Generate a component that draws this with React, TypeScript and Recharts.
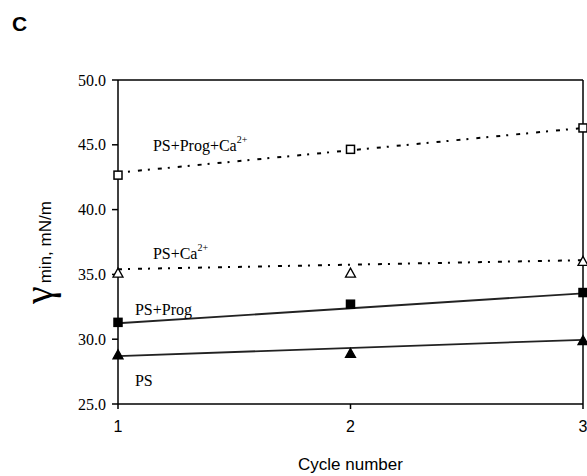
import { LineChart, Line, XAxis, YAxis, ReferenceLine, ReferenceDot, Label } from 'recharts';

const cycles = [1, 2, 3];
const psProgCa = [42.66, 44.65, 46.3];
const psCa = [35.1, 35.1, 36.0];
const psProg = [31.3, 32.7, 33.6];
const ps = [28.8, 28.9, 29.9];

// trendline ends read at cycle 1 and cycle 3
const trendCycles = [1, 3];
const trendProgCa = [42.85, 46.3];
const trendCa = [35.4, 36.1];
const trendProg = [31.23, 33.54];
const trendPs = [28.7, 29.95];

const yTicks = [25, 30, 35, 40, 45, 50];
const xTicks = [1, 2, 3];

// series names written in the plot (data position of start of baseline)
const seriesLabels = [
  { main: 'PS+Prog+Ca', sup: '2+', x: 1.15, y: 44.52 },
  { main: 'PS+Ca', sup: '2+', x: 1.15, y: 36.19 },
  { main: 'PS+Prog', sup: '', x: 1.073, y: 31.87 },
  { main: 'PS', sup: '', x: 1.073, y: 26.39 },
];

const rows = cycles.map((c, i) => ({
  cycle: c,
  psProgCa: psProgCa[i],
  psCa: psCa[i],
  psProg: psProg[i],
  ps: ps[i],
}));

const trendRows = (vals: number[]) => trendCycles.map((c, i) => ({ cycle: c, v: vals[i] }));

const serif = '"Liberation Serif", "Times New Roman", serif';
const sans = '"Liberation Sans", Arial, sans-serif';

const square = (filled: boolean) => (p: any) => (
  <rect key={p.key ?? `${p.index}`} x={p.cx - 4} y={p.cy - 4} width={8} height={8}
    fill={filled ? '#000' : '#fff'} stroke="#000" strokeWidth={1.5} />
);
const triangle = (filled: boolean) => (p: any) => (
  <polygon key={p.key ?? `${p.index}`}
    points={`${p.cx},${p.cy - 5} ${p.cx + 5},${p.cy + 4} ${p.cx - 5},${p.cy + 4}`}
    fill={filled ? '#000' : '#fff'} stroke="#000" strokeWidth={1.3} />
);

const YTitle = (props: any) => {
  const vb = props.viewBox;
  const cx = vb.x - 6;
  const cy = 304;
  return (
    <text transform={`rotate(-90, ${cx}, ${cy})`} x={cx} y={cy} textAnchor="start" fill="#000">
      <tspan fontFamily={serif} fontSize={40}>γ</tspan>
      <tspan fontFamily={sans} fontSize={17} dx={3} dy={-1}>min, mN/m</tspan>
    </text>
  );
};

const XTitle = (props: any) => {
  const vb = props.viewBox;
  return (
    <text x={vb.x + vb.width / 2} y={vb.y + 66} textAnchor="middle" fontFamily={sans} fontSize={17} fill="#000">
      Cycle number
    </text>
  );
};

const seriesText = (main: string, sup: string) => (props: any) => {
  const vb = props.viewBox;
  return (
    <text x={vb.x} y={vb.y} fontFamily={serif} fontSize={16} fill="#000">
      {main}
      {sup && <tspan fontSize={10} dy={-8}>{sup}</tspan>}
    </text>
  );
};

export default function App() {
  return (
    <div style={{ position: 'absolute', left: 0, top: 0, width: 587, height: 476, background: '#fff' }}>
      <div style={{ position: 'absolute', left: 12, top: 12, fontFamily: sans, fontWeight: 'bold', fontSize: 21 }}>C</div>
      <LineChart width={587} height={476} data={rows} margin={{ top: 80, right: 4, left: 58, bottom: 0 }}>
        <XAxis dataKey="cycle" type="number" domain={[1, 3]} ticks={xTicks} height={72}
          stroke="#000" strokeWidth={1.5} tickSize={5} tickMargin={12}
          tick={{ fill: '#000', fontFamily: sans, fontSize: 16 }}>
          <Label content={XTitle} />
        </XAxis>
        <YAxis type="number" domain={[25, 50]} ticks={yTicks} width={60}
          stroke="#000" strokeWidth={1.5} tickSize={6} tickMargin={6}
          tickFormatter={(v: number) => v.toFixed(1)}
          tick={{ fill: '#000', fontFamily: serif, fontSize: 16 }}>
          <Label content={YTitle} />
        </YAxis>
        <ReferenceLine y={50} stroke="#000" strokeWidth={1.5} />
        <ReferenceLine x={3} stroke="#000" strokeWidth={1.5} />

        <Line data={trendRows(trendProgCa)} dataKey="v" stroke="#000" strokeWidth={2} strokeDasharray="4 6 2 8" dot={false} activeDot={false} isAnimationActive={false} />
        <Line data={trendRows(trendCa)} dataKey="v" stroke="#000" strokeWidth={2} strokeDasharray="4 6 2 8" dot={false} activeDot={false} isAnimationActive={false} />
        <Line data={trendRows(trendProg)} dataKey="v" stroke="#222" strokeWidth={1.8} dot={false} activeDot={false} isAnimationActive={false} />
        <Line data={trendRows(trendPs)} dataKey="v" stroke="#222" strokeWidth={1.8} dot={false} activeDot={false} isAnimationActive={false} />

        <Line dataKey="psProgCa" stroke="none" dot={square(false)} activeDot={false} isAnimationActive={false} />
        <Line dataKey="psCa" stroke="none" dot={triangle(false)} activeDot={false} isAnimationActive={false} />
        <Line dataKey="psProg" stroke="none" dot={square(true)} activeDot={false} isAnimationActive={false} />
        <Line dataKey="ps" stroke="none" dot={triangle(true)} activeDot={false} isAnimationActive={false} />

        {seriesLabels.map((l) => (
          <ReferenceDot key={l.main} x={l.x} y={l.y} r={0} stroke="none" fill="none">
            <Label content={seriesText(l.main, l.sup)} />
          </ReferenceDot>
        ))}
      </LineChart>
    </div>
  );
}
